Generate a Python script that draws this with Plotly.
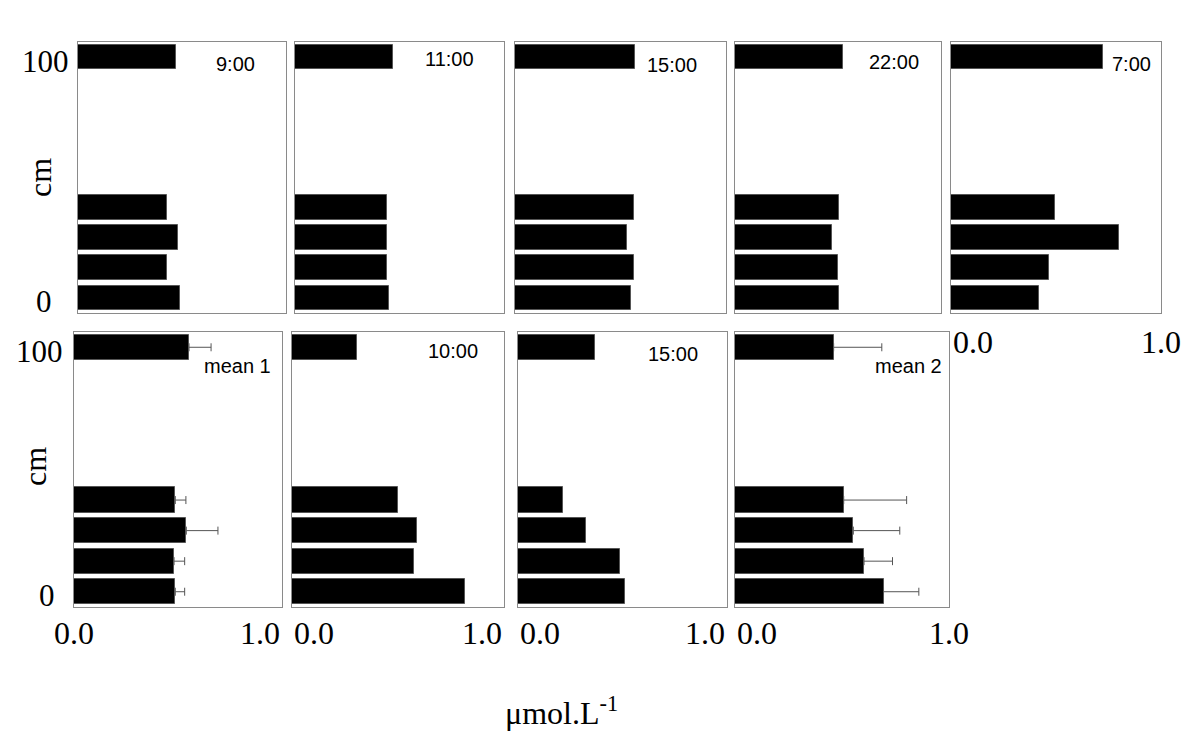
import plotly.graph_objects as go

# depth slots (cm); the 100 cm layer sits at the top of each panel
depth = [0, 12.5, 25, 37.5, 100]
depth_ticks = [0, 100]
depth_ticktext = ["0", "100"]

# concentrations (µmol.L-1), ordered as depth above
v_0900 = [0.49, 0.43, 0.48, 0.43, 0.47]
v_1100 = [0.45, 0.44, 0.44, 0.44, 0.47]
v_1500a = [0.55, 0.565, 0.53, 0.565, 0.57]
v_2200 = [0.505, 0.50, 0.47, 0.505, 0.525]
v_0700 = [0.42, 0.465, 0.80, 0.495, 0.725]
v_mean1 = [0.487, 0.481, 0.54, 0.487, 0.553]
e_mean1 = [0.045, 0.051, 0.152, 0.051, 0.106]
v_1000 = [0.815, 0.575, 0.588, 0.50, 0.307]
v_1500b = [0.51, 0.49, 0.323, 0.213, 0.367]
v_mean2 = [0.694, 0.603, 0.553, 0.508, 0.461]
e_mean2 = [0.165, 0.133, 0.217, 0.294, 0.225]

W, H = 1200, 741

# (label, values, errors, box px [left, right, top, bottom], label px [right, cy])
panels = [
    ("9:00", v_0900, None, [78, 286, 42, 313], [257, 64]),
    ("11:00", v_1100, None, [295, 504, 42, 313], [476, 59]),
    ("15:00", v_1500a, None, [515, 726, 42, 313], [699, 65]),
    ("22:00", v_2200, None, [735, 941, 42, 313], [921, 62]),
    ("7:00", v_0700, None, [951, 1161, 42, 313], [1153, 64]),
    ("mean 1", v_mean1, e_mean1, [74, 282, 332, 607], [273, 366]),
    ("10:00", v_1000, None, [292, 504, 332, 607], [480, 351]),
    ("15:00", v_1500b, None, [518, 727, 332, 607], [700, 354]),
    ("mean 2", v_mean2, e_mean2, [735, 949, 332, 607], [944, 366]),
]

serif = "Liberation Serif, Times New Roman, serif"
sans = "Liberation Sans, Arial, sans-serif"

fig = go.Figure()
annotations = []

for i, (label, vals, errs, box, lab) in enumerate(panels):
    n = i + 1
    xa = "x" if n == 1 else f"x{n}"
    ya = "y" if n == 1 else f"y{n}"
    bar = go.Bar(
        x=vals, y=depth, orientation="h", width=10.3,
        marker=dict(color="black", line=dict(color="#555555", width=1)),
        xaxis=xa, yaxis=ya, showlegend=False,
    )
    if errs is not None:
        bar.error_x = dict(type="data", symmetric=False, array=errs,
                           arrayminus=[0] * len(errs), color="#555555",
                           thickness=1, width=4)
    fig.add_trace(bar)

    left, right, top, bottom = box
    axis_common = dict(showline=True, linecolor="#8a8a8a", linewidth=1, mirror=True,
                       showgrid=False, zeroline=False, ticks="", showticklabels=False)
    fig.layout[f"xaxis{'' if n == 1 else n}"] = dict(
        domain=[left / W, right / W], range=[0, 1.0], anchor=ya, **axis_common)
    fig.layout[f"yaxis{'' if n == 1 else n}"] = dict(
        domain=[1 - bottom / H, 1 - top / H], range=[-6.25, 106.25], anchor=xa, **axis_common)

    annotations.append(dict(text=label, x=lab[0] / W, y=1 - lab[1] / H, xref="paper", yref="paper",
                            xanchor="right", yanchor="middle", showarrow=False,
                            font=dict(family=sans, size=20, color="black")))

    # x tick labels only where nothing sits below the panel
    if n >= 5:
        last = n in (5, 9)
        ty = 1 - (342 if n == 5 else 633) / H
        annotations.append(dict(text="0.0", x=0, y=ty, xref=f"{xa} domain", yref="paper",
                                xanchor="center" if n == 6 else "left", yanchor="middle",
                                showarrow=False, font=dict(family=serif, size=32, color="black")))
        annotations.append(dict(text="1.0", x=1, y=ty, xref=f"{xa} domain", yref="paper",
                                xanchor="center" if last else "right", yanchor="middle",
                                showarrow=False, font=dict(family=serif, size=32, color="black")))

    # depth tick labels and "cm" on the first panel of each row
    if n in (1, 6):
        cx = [44, 45] if n == 1 else [47, 39]
        for t, tt, c in zip(depth_ticks, depth_ticktext, cx):
            annotations.append(dict(text=tt, x=c / W, y=t, xref="paper", yref=ya,
                                    xanchor="center", yanchor="middle", yshift=-4,
                                    showarrow=False, font=dict(family=serif, size=31, color="black")))
        annotations.append(dict(text="cm", x=(40 if n == 1 else 35) / W,
                                y=1 - (178 if n == 1 else 467) / H, xref="paper", yref="paper",
                                textangle=-90, xanchor="center", yanchor="middle", showarrow=False,
                                font=dict(family=serif, size=32, color="black")))

annotations.append(dict(text="μmol.L<sup>-1</sup>", x=561 / W, y=1 - 711 / H, xref="paper", yref="paper",
                        xanchor="center", yanchor="middle", showarrow=False,
                        font=dict(family=serif, size=32, color="black")))

fig.update_layout(width=W, height=H, margin=dict(l=0, r=0, t=0, b=0),
                  paper_bgcolor="white", plot_bgcolor="white",
                  annotations=annotations, bargap=0)

# drop the default page margin so the figure starts at the window corner
fig.write_html("out.html", config={"displayModeBar": False},
               post_script="document.body.style.margin='0';")
